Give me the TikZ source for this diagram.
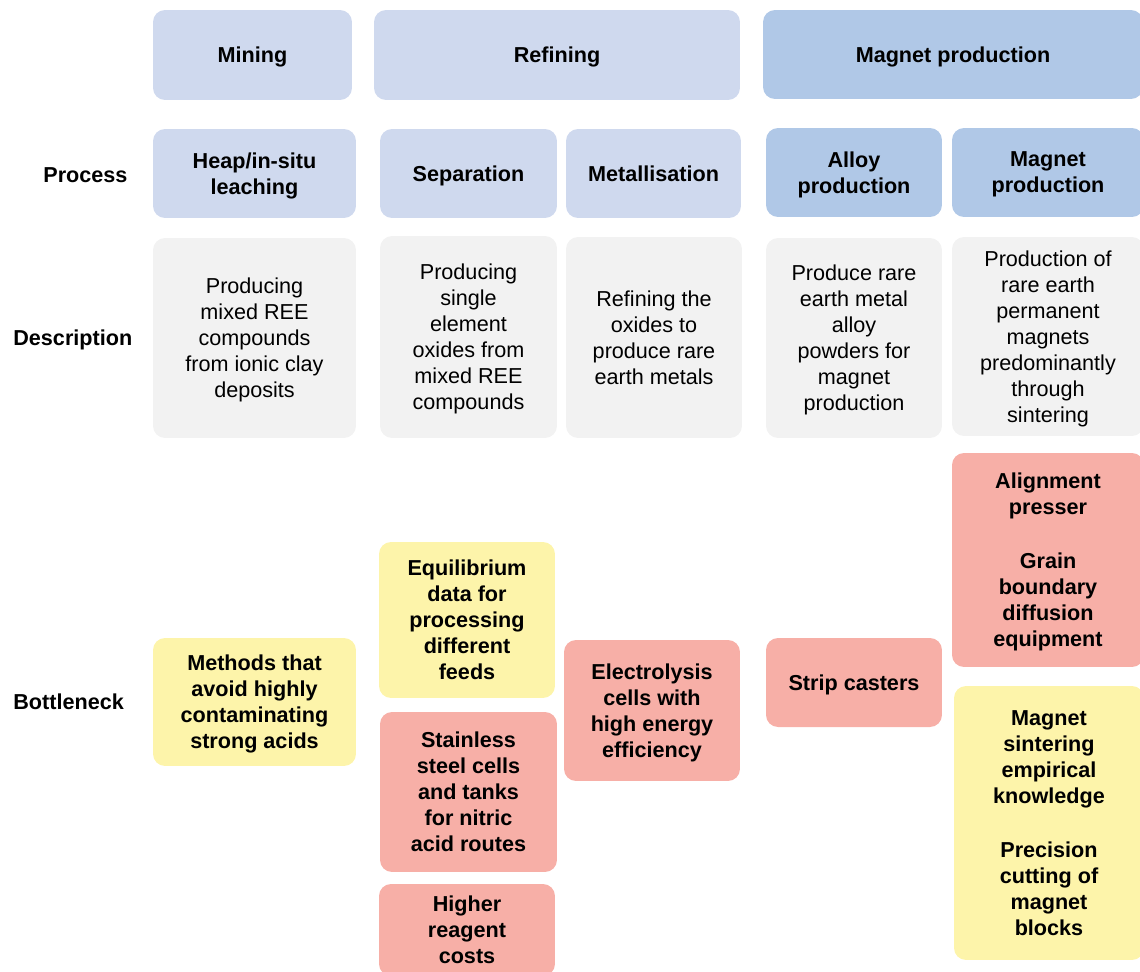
\documentclass[tikz,border=0pt]{standalone}
\usepackage{fontspec}
\setmainfont{Liberation Sans}
\usepackage{xcolor}
\usetikzlibrary{positioning}
\definecolor{stageblue}{HTML}{CFD9EE}
\definecolor{magblue}{HTML}{B0C8E7}
\definecolor{descgrey}{HTML}{F2F2F2}
\definecolor{neckred}{HTML}{F7AFA7}
\definecolor{neckyellow}{HTML}{FDF4AA}

\begin{document}
\begin{tikzpicture}[x=0.02cm, y=-0.02cm, font=\fontsize{12.3}{14.8}\selectfont]
    \tikzstyle{cell}=[rectangle, rounded corners=0.24cm, align=center, inner sep=0pt, text depth=-0.8pt]
    \tikzstyle{head}=[cell, font=\fontsize{12.3}{14.8}\selectfont\bfseries]
    \tikzstyle{rowlabel}=[anchor=west, inner sep=0pt, text depth=-0.8pt, font=\fontsize{12.3}{14.8}\selectfont\bfseries]

    \useasboundingbox (0,0) rectangle (1140,971);
    \clip (0,0) rectangle (1140,971);

    % stages
    \node[head, fill=stageblue, minimum width=3.98cm, minimum height=1.8cm] (mining) at (252.5,55) {Mining};
    \node[head, fill=stageblue, minimum width=7.32cm, minimum height=1.8cm] (refining) at (557,55) {Refining};
    \node[head, fill=magblue, minimum width=7.6cm, minimum height=1.78cm] (magnet) at (953,54.5) {Magnet production};

    % process
    \node[rowlabel] (process) at (43,175) {Process};
    \node[head, fill=stageblue, minimum width=4.06cm, minimum height=1.78cm] (heap) at (254.5,173.5) {Heap/in-situ\\leaching};
    \node[head, fill=stageblue, minimum width=3.54cm, minimum height=1.78cm] (sep) at (468.5,173.5) {Separation};
    \node[head, fill=stageblue, minimum width=3.5cm, minimum height=1.78cm] (metal) at (653.5,173.5) {Metallisation};
    \node[head, fill=magblue, minimum width=3.52cm, minimum height=1.78cm] (alloy) at (854,172.5) {Alloy\\production};
    \node[head, fill=magblue, minimum width=3.84cm, minimum height=1.78cm] (magproc) at (1048,172.5) {Magnet\\production};

    % description
    \node[rowlabel] (description) at (13,338) {Description};
    \node[cell, fill=descgrey, minimum width=4.06cm, minimum height=4cm] (dheap) at (254.5,338) {Producing\\mixed REE\\compounds\\from ionic clay\\deposits};
    \node[cell, fill=descgrey, minimum width=3.54cm, minimum height=4.04cm] (dsep) at (468.5,337) {Producing\\single\\element\\oxides from\\mixed REE\\compounds};
    \node[cell, fill=descgrey, minimum width=3.52cm, minimum height=4.02cm] (dmetal) at (654,337.5) {Refining the\\oxides to\\produce rare\\earth metals};
    \node[cell, fill=descgrey, minimum width=3.52cm, minimum height=4cm] (dalloy) at (854,338) {Produce rare\\earth metal\\alloy\\powders for\\magnet\\production};
    \node[cell, fill=descgrey, minimum width=3.84cm, minimum height=3.98cm] (dmag) at (1048,336.5) {Production of\\rare earth\\permanent\\magnets\\predominantly\\through\\sintering};

    % bottlenecks
    \node[rowlabel] (bottleneck) at (13,702) {Bottleneck};
    \node[head, fill=neckyellow, minimum width=4.06cm, minimum height=2.56cm] (bmeth) at (254.5,702) {Methods that\\avoid highly\\contaminating\\strong acids};
    \node[head, fill=neckyellow, minimum width=3.52cm, minimum height=3.12cm] (bequi) at (467,620) {Equilibrium\\data for\\processing\\different\\feeds};
    \node[head, fill=neckred, minimum width=3.54cm, minimum height=3.2cm] (bstain) at (468.5,792) {Stainless\\steel cells\\and tanks\\for nitric\\acid routes};
    \node[head, fill=neckred, minimum width=3.52cm, minimum height=1.84cm] (breag) at (467,930) {Higher\\reagent\\costs};
    \node[head, fill=neckred, minimum width=3.52cm, minimum height=2.82cm] (belec) at (652,710.5) {Electrolysis\\cells with\\high energy\\efficiency};
    \node[head, fill=neckred, minimum width=3.52cm, minimum height=1.78cm] (bstrip) at (854,682.5) {Strip casters};
    \node[head, fill=neckred, minimum width=3.84cm, minimum height=4.28cm] (balign) at (1048,560) {Alignment\\presser\\[16pt]Grain\\boundary\\diffusion\\equipment};
    \node[head, fill=neckyellow, minimum width=3.8cm, minimum height=5.48cm] (bsint) at (1049,823) {Magnet\\sintering\\empirical\\knowledge\\[16pt]Precision\\cutting of\\magnet\\blocks};
\end{tikzpicture}
\end{document}
